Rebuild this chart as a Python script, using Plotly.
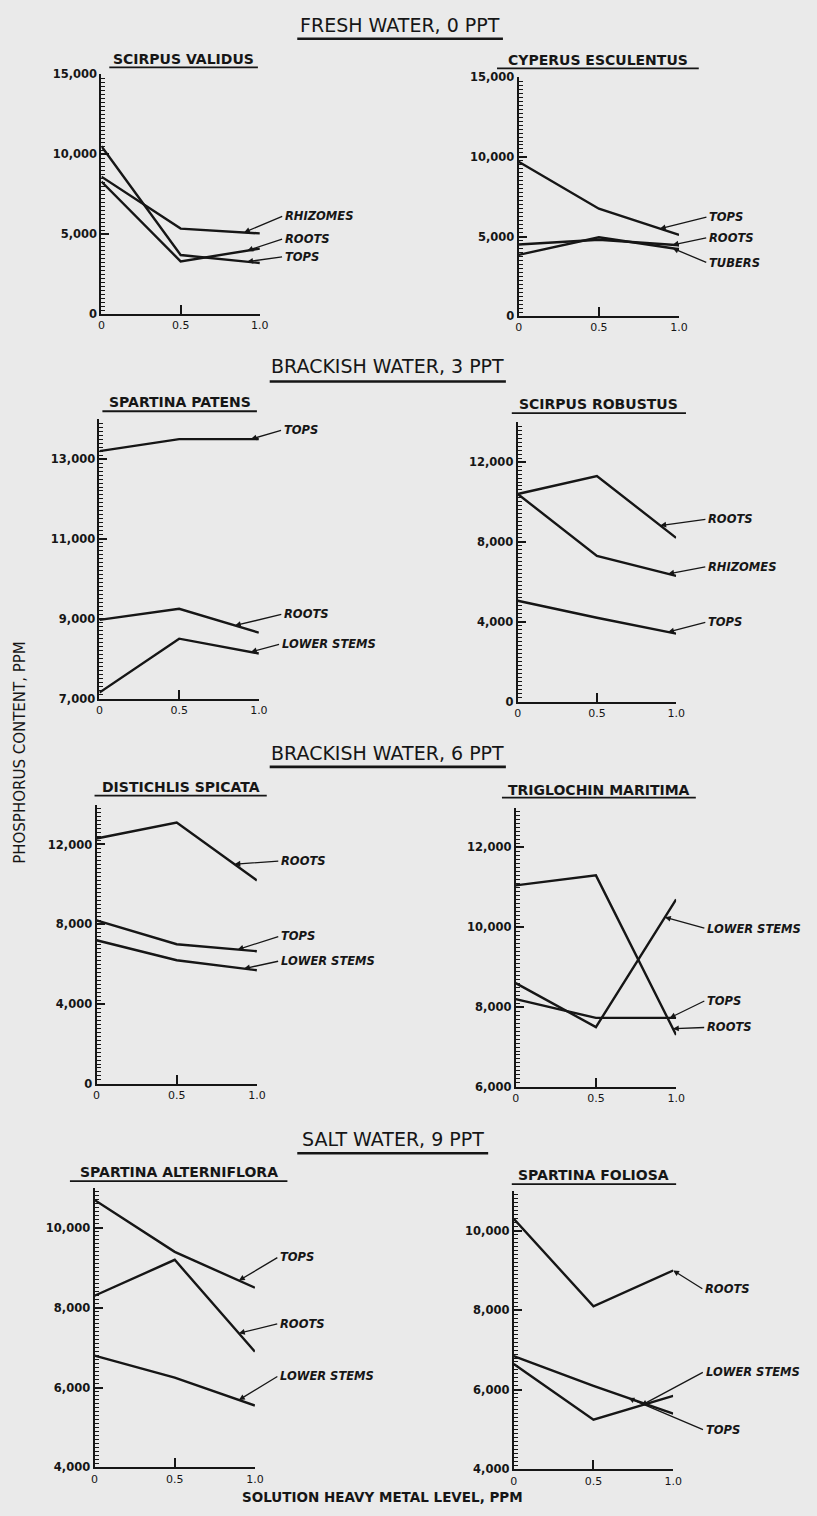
import plotly.graph_objects as go

W, H = 817, 1516

# ---------------- data ----------------
levels = [0, 0.5, 1.0]
level_labels = ["0", "0.5", "1.0"]

# Fresh water, 0 ppt
sv_rhizomes = [8600, 5350, 5050]
sv_roots = [8300, 3300, 4100]
sv_tops = [10500, 3700, 3200]

ce_tops = [9700, 6750, 5100]
ce_roots = [4500, 4800, 4450]
ce_tubers = [3850, 4950, 4200]

# Brackish water, 3 ppt
sp_tops = [13200, 13500, 13500]
sp_roots = [8970, 9250, 8650]
sp_lower = [7150, 8500, 8130]

sr_roots = [10400, 11300, 8200]
sr_rhizomes = [10400, 7300, 6300]
sr_tops = [5050, 4200, 3400]

# Brackish water, 6 ppt
ds_roots = [12300, 13100, 10200]
ds_tops = [8200, 7000, 6650]
ds_lower = [7200, 6200, 5700]

tm_roots = [11050, 11300, 7300]
tm_lower = [8600, 7500, 10700]
tm_tops = [8200, 7730, 7730]

# Salt water, 9 ppt
sa_tops = [10700, 9400, 8500]
sa_roots = [8300, 9200, 6900]
sa_lower = [6800, 6250, 5550]

sf_roots = [10300, 8100, 9000]
sf_lower = [6650, 5250, 5850]
sf_tops = [6850, 6100, 5400]

# tick labels
ticks_15k = (list(range(0, 15001, 2500)), ["0", "", "5,000", "", "10,000", "", "15,000"])
ticks_7_14k = (list(range(7000, 14001, 1000)), ["7,000", "", "9,000", "", "11,000", "", "13,000", ""])
ticks_14k = (list(range(0, 14001, 2000)), ["0", "", "4,000", "", "8,000", "", "12,000", ""])
ticks_6_13k = (list(range(6000, 13001, 1000)), ["6,000", "", "8,000", "", "10,000", "", "12,000", ""])
ticks_4_11k = (list(range(4000, 11001, 1000)), ["4,000", "", "6,000", "", "8,000", "", "10,000", ""])

section_titles = ["FRESH WATER, 0 PPT", "BRACKISH WATER, 3 PPT",
                  "BRACKISH WATER, 6 PPT", "SALT WATER, 9 PPT"]
y_title = "PHOSPHORUS CONTENT, PPM"
x_title = "SOLUTION HEAVY METAL LEVEL, PPM"

# ---------------- layout spec (pixels) ----------------
panels = [
    dict(title="SCIRPUS VALIDUS", box=(99, 260, 310, 68), rng=(0, 15000), ticks=ticks_15k, minor=250,
         ttl=(107, 258, 52, 61),
         series=[("RHIZOMES", sv_rhizomes, 283, 211, 0.9),
                 ("ROOTS", sv_roots, 283, 234, 0.92),
                 ("TOPS", sv_tops, 283, 252, 0.92)]),
    dict(title="CYPERUS ESCULENTUS", box=(523, 686, 312, 71), rng=(0, 15000), ticks=ticks_15k, minor=250,
         ttl=(501, 706, 53, 62),
         series=[("TOPS", ce_tops, 714, 212, 0.88),
                 ("ROOTS", ce_roots, 714, 233, 0.96),
                 ("TUBERS", ce_tubers, 714, 258, 0.96)]),
    dict(title="SPARTINA PATENS", box=(97, 259, 698, 416), rng=(7000, 14000), ticks=ticks_7_14k, minor=100,
         ttl=(100, 257, 399, 408),
         series=[("TOPS", sp_tops, 282, 427, 0.95),
                 ("ROOTS", sp_roots, 282, 613, 0.85),
                 ("LOWER STEMS", sp_lower, 280, 643, 0.95)]),
    dict(title="SCIRPUS ROBUSTUS", box=(522, 683, 701, 419), rng=(0, 14000), ticks=ticks_14k, minor=200,
         ttl=(516, 693, 401, 410),
         series=[("ROOTS", sr_roots, 713, 517, 0.9),
                 ("RHIZOMES", sr_rhizomes, 713, 565, 0.95),
                 ("TOPS", sr_tops, 713, 621, 0.95)]),
    dict(title="DISTICHLIS SPICATA", box=(94, 257, 1087, 805), rng=(0, 14000), ticks=ticks_14k, minor=200,
         ttl=(92, 267, 787, 796),
         series=[("ROOTS", ds_roots, 279, 862, 0.86),
                 ("TOPS", ds_tops, 279, 938, 0.88),
                 ("LOWER STEMS", ds_lower, 279, 963, 0.92)]),
    dict(title="TRIGLOCHIN MARITIMA", box=(520, 683, 1090, 808), rng=(6000, 13000), ticks=ticks_6_13k, minor=100,
         ttl=(506, 703, 790, 798),
         series=[("LOWER STEMS", tm_lower, 712, 930, 0.93),
                 ("TOPS", tm_tops, 712, 1003, 0.96),
                 ("ROOTS", tm_roots, 712, 1030, 0.98)]),
    dict(title="SPARTINA ALTERNIFLORA", box=(92, 255, 1474, 1192), rng=(4000, 11000), ticks=ticks_4_11k, minor=100,
         ttl=(67, 288, 1176, 1185),
         series=[("TOPS", sa_tops, 278, 1262, 0.9),
                 ("ROOTS", sa_roots, 278, 1329, 0.9),
                 ("LOWER STEMS", sa_lower, 278, 1382, 0.9)]),
    dict(title="SPARTINA FOLIOSA", box=(518, 680, 1476, 1195), rng=(4000, 11000), ticks=ticks_4_11k, minor=100,
         ttl=(516, 683, 1179, 1188),
         series=[("ROOTS", sf_roots, 710, 1294, 1.0),
                 ("LOWER STEMS", sf_lower, 710, 1378, 0.8),
                 ("TOPS", sf_tops, 710, 1436, 0.72)]),
]

section_pos = [(298, 507, 18, 32), (270, 510, 362, 378), (270, 510, 753, 767), (298, 492, 1143, 1157)]

INK = "#161616"
BG = "#eaeaea"
FONT = "DejaVu Sans"


def px(v):
    return v / W


def py(v):
    return 1 - v / H


def interp(vals, xv):
    if xv <= 0.5:
        return vals[0] + (vals[1] - vals[0]) * xv / 0.5
    return vals[1] + (vals[2] - vals[1]) * (xv - 0.5) / 0.5


fig = go.Figure()
annotations = []
shapes = []

for i, p in enumerate(panels, start=1):
    x0, x1, yb, yt = p["box"]
    lo, hi = p["rng"]
    xa = "x" if i == 1 else f"x{i}"
    ya = "y" if i == 1 else f"y{i}"
    for name, vals, tx, ty, hx in p["series"]:
        fig.add_trace(go.Scatter(x=levels, y=vals, mode="lines", xaxis=xa, yaxis=ya,
                                 line=dict(color=INK, width=2.4), cliponaxis=False,
                                 showlegend=False, hoverinfo="skip"))
        hv = interp(vals, hx)
        hpx = x0 + hx * (x1 - x0)
        hpy = yb - (hv - lo) / (hi - lo) * (yb - yt)
        annotations.append(dict(
            x=hx, y=hv, xref=xa, yref=ya, text=name, showarrow=True,
            ax=tx - hpx, ay=ty - hpy, axref="pixel", ayref="pixel",
            xanchor="left", yanchor="middle",
            arrowhead=2, arrowsize=0.9, arrowwidth=1.3, arrowcolor=INK,
            standoff=0, startstandoff=1,
            font=dict(family=FONT, size=11.5, color=INK, weight="bold", style="italic")))
    tv, tt = p["ticks"]
    step = p["minor"]
    minor_vals = [lo + k * step for k in range(int(round((hi - lo) / step)) + 1)]
    axis_common = dict(showline=True, linecolor=INK, linewidth=2, showgrid=False, zeroline=False,
                       ticks="inside", tickcolor=INK, tickwidth=1.5)
    fig.layout[("xaxis" if i == 1 else f"xaxis{i}")] = dict(
        axis_common, domain=[px(x0), px(x1)], range=[0, 1.0], anchor=ya,
        tickmode="array", tickvals=levels, ticktext=level_labels, ticklen=9,
        tickfont=dict(family=FONT, size=11, color=INK))
    fig.layout[("yaxis" if i == 1 else f"yaxis{i}")] = dict(
        axis_common, domain=[py(yb), py(yt)], range=[lo, hi], anchor=xa,
        tickmode="array", tickvals=tv, ticktext=tt, ticklen=8,
        tickfont=dict(family=FONT, size=11.5, color=INK, weight="bold"),
        minor=dict(tickmode="array", tickvals=minor_vals, ticks="inside",
                   ticklen=4, tickwidth=1, tickcolor=INK))
    # subplot title with underline
    l, r, cy, uy = p["ttl"]
    annotations.append(dict(x=px((l + r) / 2), y=py(cy), xref="paper", yref="paper",
                            text=p["title"], showarrow=False, xanchor="center", yanchor="middle",
                            font=dict(family=FONT, size=14, color=INK, weight="bold")))
    shapes.append(dict(type="line", xref="paper", yref="paper", x0=px(l), x1=px(r),
                       y0=py(uy), y1=py(uy), line=dict(color=INK, width=1.8)))

for text, (l, r, cy, uy) in zip(section_titles, section_pos):
    annotations.append(dict(x=px((l + r) / 2), y=py(cy), xref="paper", yref="paper",
                            text=text, showarrow=False, xanchor="center", yanchor="middle",
                            font=dict(family=FONT, size=19, color=INK)))
    shapes.append(dict(type="line", xref="paper", yref="paper", x0=px(l), x1=px(r),
                       y0=py(uy), y1=py(uy), line=dict(color=INK, width=2.6)))

annotations.append(dict(x=px(16), y=py(752), xref="paper", yref="paper", text=y_title,
                        showarrow=False, textangle=-90, xanchor="center", yanchor="middle",
                        font=dict(family=FONT, size=15, color=INK)))
annotations.append(dict(x=px(385), y=py(1504), xref="paper", yref="paper", text=x_title,
                        showarrow=False, xanchor="center", yanchor="middle",
                        font=dict(family=FONT, size=13.5, color=INK, weight="bold")))

fig.update_layout(width=W, height=H, autosize=False, margin=dict(l=0, r=0, t=0, b=0),
                  paper_bgcolor=BG, plot_bgcolor="rgba(0,0,0,0)",
                  annotations=annotations, shapes=shapes, showlegend=False)

fig.write_html("out.html", config={"displayModeBar": False},
               post_script="document.body.style.margin='0px';document.body.style.background='%s';" % BG)
